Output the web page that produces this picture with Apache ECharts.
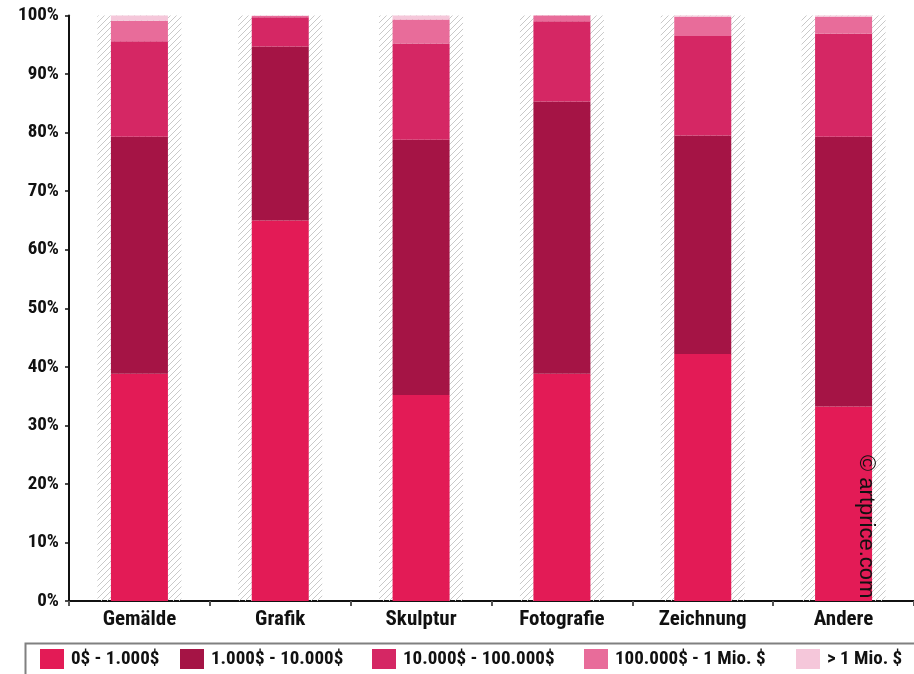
<!DOCTYPE html>
<html>
<head>
<meta charset="utf-8">
<script src="https://cdn.jsdelivr.net/npm/echarts@6/dist/echarts.min.js"></script>
<style>
  html, body { margin: 0; padding: 0; background: #fff; }
  #chart { width: 914px; height: 674px; }
</style>
</head>
<body>
<div id="chart"></div>
<script>
// Share of lots sold per price band, by medium (percent)
const categories = ['Gemälde', 'Grafik', 'Skulptur', 'Fotografie', 'Zeichnung', 'Andere'];
const seriesNames = ['0$ - 1.000$', '1.000$ - 10.000$', '10.000$ - 100.000$', '100.000$ - 1 Mio. $', '> 1 Mio. $'];
const band0 = [38.8, 65.0, 35.2, 38.8, 42.2, 33.2];
const band1 = [40.5, 29.7, 43.6, 46.5, 37.3, 46.1];
const band2 = [16.3, 5.0, 16.4, 13.7, 17.0, 17.6];
const band3 = [3.5, 0.2, 4.1, 1.0, 3.3, 2.9];
const band4 = [0.9, 0.1, 0.7, 0.0, 0.2, 0.2];
const backdrop = [100, 100, 100, 100, 100, 100];
const yTicks = { min: 0, max: 100, interval: 10 };

const colors = ['#E31B56', '#A51445', '#D52764', '#E86C9A', '#F5C7DA'];
const FONT = '"Roboto Condensed", "Liberation Sans Narrow", sans-serif';

// diagonal hatch tile for the column backdrops
function hatchTile() {
  const c = document.createElement('canvas');
  c.width = 6; c.height = 6;
  const g = c.getContext('2d');
  g.strokeStyle = '#c9c9c9';
  g.lineWidth = 1;
  g.beginPath();
  g.moveTo(0, 6); g.lineTo(6, 0);
  g.moveTo(-1, 1); g.lineTo(1, -1);
  g.moveTo(5, 7); g.lineTo(7, 5);
  g.stroke();
  return c;
}

const bands = [band0, band1, band2, band3, band4];
const series = [{
  type: 'bar',
  xAxisIndex: 1,
  data: backdrop,
  barWidth: 84,
  silent: true,
  z: 1,
  itemStyle: { color: { image: hatchTile(), repeat: 'repeat' } }
}];
bands.forEach((vals, i) => {
  series.push({
    name: seriesNames[i],
    type: 'bar',
    stack: 'total',
    barWidth: 57,
    z: 3,
    data: vals,
    itemStyle: { color: colors[i] }
  });
});

// one legend per entry so each swatch sits at its own spot
const legendX = [40, 180, 372, 584, 796];
const legends = seriesNames.map((n, i) => ({
  data: [n],
  left: legendX[i],
  top: 649,
  padding: 0,
  itemWidth: 24,
  itemHeight: 20,
  itemGap: 0,
  icon: 'rect',
  selectedMode: false,
  textStyle: { fontFamily: FONT, fontWeight: 'bold', fontSize: 19, color: '#111', padding: [0, 0, 0, 2] }
}));

const chart = echarts.init(document.getElementById('chart'));
chart.setOption({
  animation: false,
  color: colors,
  grid: { left: 69, top: 15.5, width: 846, bottom: 73, containLabel: false },
  legend: legends,
  xAxis: [{
    type: 'category',
    data: categories,
    axisLine: { lineStyle: { color: '#111', width: 2 } },
    axisTick: { show: true, length: 5, lineStyle: { color: '#555', width: 2 } },
    axisLabel: { margin: 8, fontFamily: FONT, fontWeight: 'bold', fontSize: 21, color: '#111' }
  }, {
    type: 'category',
    data: categories,
    show: false
  }],
  yAxis: {
    type: 'value',
    min: yTicks.min,
    max: yTicks.max,
    interval: yTicks.interval,
    axisLine: { show: true, lineStyle: { color: '#111', width: 2 } },
    axisTick: { show: true, length: 4, lineStyle: { color: '#111', width: 1.5 } },
    splitLine: { show: false },
    axisLabel: { formatter: '{value}%', margin: 10, fontFamily: FONT, fontWeight: 'bold', fontSize: 19, color: '#111' }
  },
  graphic: [{
    type: 'rect',
    left: 23, top: 641,
    shape: { width: 900, height: 40 },
    style: { fill: 'none', stroke: '#808080', lineWidth: 2 },
    z: 0
  }, {
    type: 'text',
    x: 855, y: 455,
    rotation: -Math.PI / 2,
    style: { text: '© artprice.com', font: '22px "Liberation Sans", Arial, sans-serif', fill: '#111', textAlign: 'left', textVerticalAlign: 'bottom' },
    z: 10
  }],
  series: series
});
</script>
</body>
</html>
